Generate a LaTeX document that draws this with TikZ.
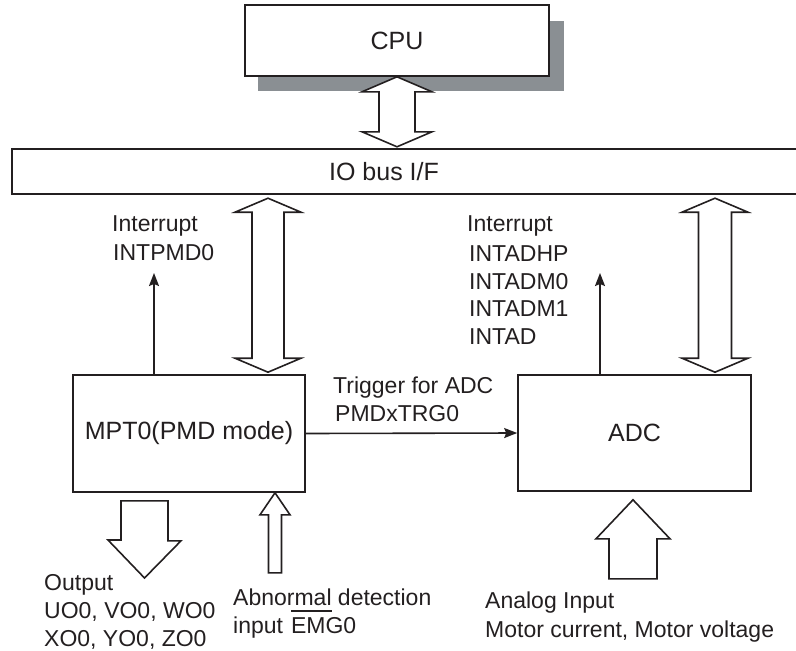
\documentclass[tikz,border=0pt]{standalone}
\usepackage{fontspec}
\setmainfont{Liberation Sans}
\usetikzlibrary{calc,arrows.meta}
\definecolor{ink}{HTML}{231F20}
\definecolor{shadowgray}{HTML}{8A8F93}
\tikzset{
  box/.style={draw=ink, line width=1.6pt, fill=white, inner sep=0pt, font=\fontsize{25}{30}\selectfont, text=ink},
  lbl/.style={anchor=base west, inner sep=0pt, font=\fontsize{23}{27}\selectfont, text=ink},
  hollow/.style={draw=ink, line width=1.6pt, fill=white, line join=miter},
  thin/.style={draw=ink, line width=1.6pt, -{Stealth[length=13pt,width=10pt,inset=2pt]}}
}
\newcommand\hdbl[5]{%
  \draw[hollow] (#1) -- ++(#3,#5) -- ++(-#3+#4,0) -- ($(#2)+(#4,-#5)$) -- ++(#3-#4,0) -- (#2)
    -- ++(-#3,-#5) -- ++(#3-#4,0) -- ($(#1)+(-#4,#5)$) -- ++(-#3+#4,0) -- cycle;}
\begin{document}
\begin{tikzpicture}[x=1pt,y=-1pt]
\useasboundingbox (0,0) rectangle (796,651);
% CPU with shadow
\fill[shadowgray] (258,21) rectangle (564,91);
\node[box, minimum width=304pt, minimum height=71pt] (cpu) at (397,40.5) {CPU};
% IO bus
\node[inner sep=0pt, minimum width=790pt, minimum height=45pt] (io) at (407,171.5) {};
\node[inner sep=0pt, font=\fontsize{25}{30}\selectfont, text=ink] (iotext) at (384,171.5) {IO bus I/F};
\draw[ink, line width=1.6pt] (io.north east) -- (io.north west) -- (io.south west) -- (io.south east);
% blocks
\node[box, minimum width=232pt, minimum height=117pt] (mpt) at (189,433.5) {MPT0(PMD mode)};
\node[box, minimum width=233pt, minimum height=116pt] (adc) at (634.5,433) {ADC};
% CPU <-> IO
\coordinate (c1) at (cpu.south);
\coordinate (c2) at ($(cpu.south |- io.north)+(0,-2)$);
\hdbl{c1}{c2}{35}{18}{15}
% MPT <-> IO
\coordinate (m1) at ($(268,0 |- io.south)+(0,4)$);
\coordinate (m2) at ($(268,0 |- mpt.north)+(0,-2)$);
\hdbl{m1}{m2}{33}{16}{14}
% ADC <-> IO
\coordinate (a1) at ($(715,0 |- io.south)+(0,4)$);
\coordinate (a2) at ($(715,0 |- adc.north)+(0,-2)$);
\hdbl{a1}{a2}{33}{16.5}{14}
% interrupts
\coordinate (i1) at (154,273);
\draw[thin] (i1 |- mpt.north) -- (i1);
\coordinate (i2) at (600,273);
\draw[thin] (i2 |- adc.north) -- (i2);
% trigger
\draw[thin] (mpt.east) -- (adc.west);
% Output arrow (down)
\coordinate (o1) at ($(144.5,0 |- mpt.south)+(0,8)$);
\draw[hollow] (o1) ++(-23.5,0) -- ++(47,0) -- ++(0,40) -- ++(13,0) -- (144.5,578) -- (108,540) -- ++(13,0) -- cycle;
% Abnormal arrow (up)
\coordinate (e1) at (275,0 |- mpt.south);
\draw[hollow] (e1) -- ++(15,22) -- ++(-8.5,0) -- ++(0,58) -- ++(-13,0) -- ++(0,-58) -- ++(-8.5,0) -- cycle;
% Analog arrow (up)
\coordinate (g1) at ($(633,0 |- adc.south)+(0,8)$);
\draw[hollow] (g1) -- ++(37,39) -- ++(-13,0) -- ++(0,40) -- ++(-48,0) -- ++(0,-40) -- ++(-13,0) -- cycle;
% labels
\node[lbl] (t1) at (112,231.5) {Interrupt};
\node[lbl] (t2) at (113,260.5) {INTPMD0};
\node[lbl] (t3) at (467,231.5) {Interrupt};
\node[lbl] (t4) at (469,261.5) {INTADHP};
\node[lbl] (t5) at (469,289) {INTADM0};
\node[lbl] (t6) at (469,316.5) {INTADM1};
\node[lbl] (t7) at (469,344) {INTAD};
\node[lbl] (t8) at (333,393) {Trigger for ADC};
\node[lbl] (t9) at (335,421) {PMDxTRG0};
\node[lbl] (t10) at (44,590) {Output};
\node[lbl] (t11) at (44,618) {UO0, VO0, WO0};
\node[lbl] (t12) at (44,646) {XO0, YO0, ZO0};
\node[lbl] (t13) at (233,605) {Abnormal detection};
\node[lbl] (t14) at (233,633.5) {input\hspace{8pt}\rlap{\raisebox{22pt}{\rule{41pt}{1.6pt}}}EMG0};
\node[lbl] (t15) at (485,608) {Analog Input};
\node[lbl] (t16) at (485,637) {Motor current, Motor voltage};
\end{tikzpicture}
\end{document}
